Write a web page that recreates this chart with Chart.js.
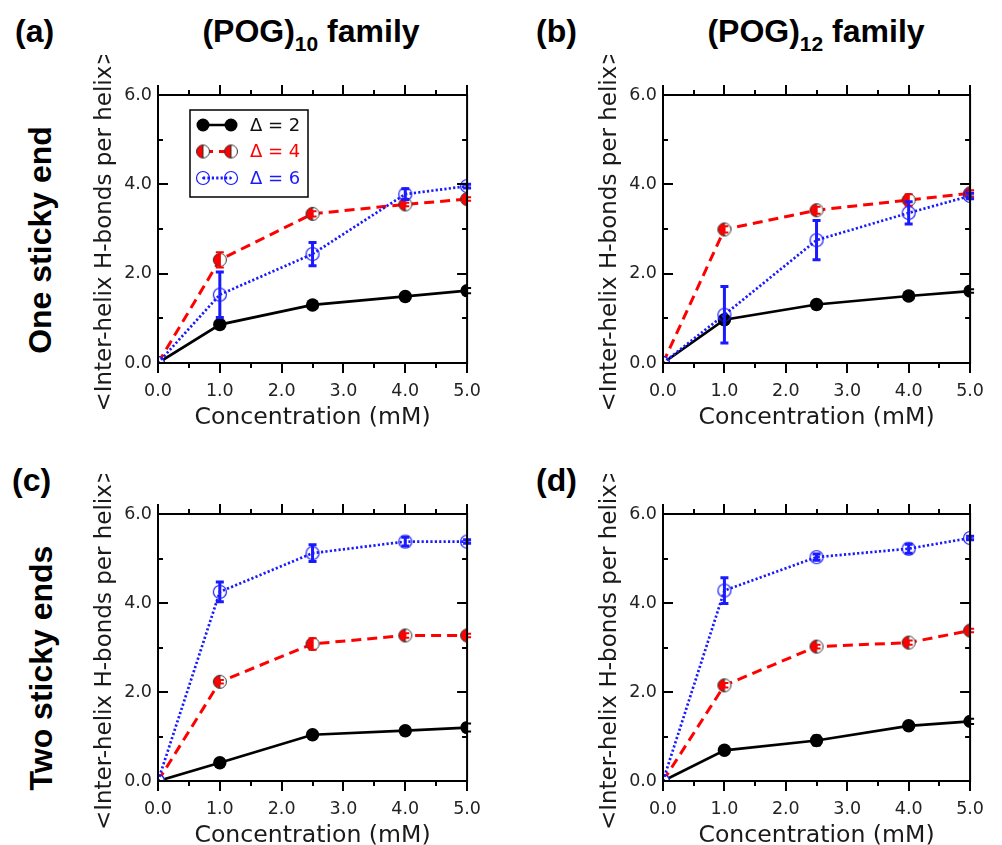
<!DOCTYPE html>
<html>
<head>
<meta charset="utf-8">
<script src="https://cdn.jsdelivr.net/npm/chart.js@4.4.0/dist/chart.umd.min.js"></script>
<style>
  body { margin: 0; background: #fff; width: 1002px; height: 845px; overflow: hidden; position: relative;
         font-family: "Liberation Sans", Arial, sans-serif; }
  canvas.panel { position: absolute; }
  .lbl { position: absolute; font-weight: bold; font-size: 32px; line-height: 32px; white-space: nowrap; color: #000; }
  .head { transform: translateX(-50%); }
  .side { transform: translate(-50%, -50%) rotate(-90deg); }
  .sub { font-size: 21px; position: relative; top: 9px; }
</style>
</head>
<body>
<div class="lbl" style="left:15px; top:15px;">(a)</div>
<div class="lbl" style="left:536px; top:15px;">(b)</div>
<div class="lbl" style="left:12px; top:464px;">(c)</div>
<div class="lbl" style="left:536px; top:464px;">(d)</div>
<div class="lbl head" style="left:311px; top:15px;">(POG)<span class="sub">10</span> family</div>
<div class="lbl head" style="left:816px; top:15px;">(POG)<span class="sub">12</span> family</div>
<div class="lbl side" style="left:40px; top:240px;">One sticky end</div>
<div class="lbl side" style="left:41px; top:668px;">Two sticky ends</div>

<canvas id="pa" class="panel"></canvas>
<canvas id="pb" class="panel"></canvas>
<canvas id="pc" class="panel"></canvas>
<canvas id="pd" class="panel"></canvas>

<script>
// concentration points (mM)
const conc = [0, 1.0, 2.5, 4.0, 5.0];
const seriesNames = ['\u0394 = 2', '\u0394 = 4', '\u0394 = 6'];

// (a) (POG)10, one sticky end
const a_d2 = [0, 0.86, 1.30, 1.49, 1.62];
const a_d2_err = [0, 0.04, 0.04, 0.04, 0.06];
const a_d4 = [0, 2.31, 3.34, 3.55, 3.67];
const a_d4_err = [0, 0.17, 0.06, 0.04, 0.04];
const a_d6 = [0, 1.53, 2.44, 3.78, 3.96];
const a_d6_err = [0, 0.51, 0.26, 0.12, 0.04];

// (b) (POG)12, one sticky end
const b_d2 = [0, 0.97, 1.31, 1.50, 1.61];
const b_d2_err = [0, 0.06, 0.04, 0.04, 0.04];
const b_d4 = [0, 2.99, 3.42, 3.65, 3.80];
const b_d4_err = [0, 0.07, 0.08, 0.13, 0.07];
const b_d6 = [0, 1.08, 2.75, 3.36, 3.74];
const b_d6_err = [0, 0.63, 0.44, 0.25, 0.06];

// (c) (POG)10, two sticky ends
const c_d2 = [0, 0.41, 1.04, 1.13, 1.20];
const c_d2_err = [0, 0.04, 0.05, 0.05, 0.09];
const c_d4 = [0, 2.23, 3.08, 3.27, 3.27];
const c_d4_err = [0, 0.04, 0.13, 0.05, 0.04];
const c_d6 = [0, 4.25, 5.12, 5.38, 5.38];
const c_d6_err = [0, 0.22, 0.19, 0.10, 0.04];

// (d) (POG)12, two sticky ends
const d_d2 = [0, 0.69, 0.91, 1.24, 1.34];
const d_d2_err = [0, 0.05, 0.11, 0.05, 0.06];
const d_d4 = [0, 2.15, 3.02, 3.11, 3.38];
const d_d4_err = [0, 0.05, 0.04, 0.05, 0.04];
const d_d6 = [0, 4.28, 5.03, 5.22, 5.46];
const d_d6_err = [0, 0.29, 0.07, 0.10, 0.04];

const RED = '#ff0000', BLUE = '#1a1aff';

// half red / half white circle
function halfMarker() {
  const c = document.createElement('canvas');
  c.width = c.height = 16;
  const g = c.getContext('2d'), m = 8, r = 6.5;
  g.fillStyle = '#fff';
  g.beginPath(); g.arc(m, m, r, 0, Math.PI * 2); g.fill();
  g.fillStyle = RED;
  g.beginPath(); g.arc(m, m, r, Math.PI / 2, Math.PI * 1.5); g.closePath(); g.fill();
  g.strokeStyle = '#333'; g.lineWidth = 1;
  g.beginPath(); g.arc(m, m, r, 0, Math.PI * 2); g.stroke();
  g.beginPath(); g.moveTo(m, m - r); g.lineTo(m, m + r); g.stroke();
  return c;
}
// open blue ring with a dot
function dotMarker() {
  const c = document.createElement('canvas');
  c.width = c.height = 16;
  const g = c.getContext('2d'), m = 8, r = 6.5;
  g.strokeStyle = BLUE; g.lineWidth = 1.2;
  g.beginPath(); g.arc(m, m, r, 0, Math.PI * 2); g.stroke();
  g.fillStyle = BLUE;
  g.beginPath(); g.arc(m, m, 1, 0, Math.PI * 2); g.fill();
  return c;
}
const redMark = halfMarker();
const blueMark = dotMarker();

const errorBars = {
  id: 'errorBars',
  afterDatasetDraw(chart, args) {
    const ds = chart.data.datasets[args.index];
    if (!ds.errors) return;
    const ctx = chart.ctx, ys = chart.scales.y;
    ctx.save();
    ctx.strokeStyle = ds.errColor;
    ctx.lineWidth = ds.errWidth;
    args.meta.data.forEach((pt, i) => {
      const e = ds.errors[i];
      if (!e) return;
      const v = ds.data[i].y;
      const y0 = ys.getPixelForValue(v - e), y1 = ys.getPixelForValue(v + e);
      ctx.beginPath();
      ctx.moveTo(pt.x, y0); ctx.lineTo(pt.x, y1);
      ctx.moveTo(pt.x - 4, y0); ctx.lineTo(pt.x + 4, y0);
      ctx.moveTo(pt.x - 4, y1); ctx.lineTo(pt.x + 4, y1);
      ctx.stroke();
    });
    ctx.restore();
  }
};

// box round the plot with major/minor ticks on all sides
const frame = {
  id: 'frame',
  afterDatasetsDraw(chart) {
    const { ctx, chartArea: a, scales: { x, y } } = chart;
    ctx.save();
    ctx.strokeStyle = '#000';
    ctx.lineWidth = 2;
    ctx.strokeRect(a.left, a.top, a.right - a.left, a.bottom - a.top);
    ctx.beginPath();
    for (let v = x.min; v <= x.max + 1e-6; v += 0.5) {
      const px = Math.round(x.getPixelForValue(v));
      const len = Math.abs(v % 1) < 1e-6 ? 10 : 5;
      ctx.moveTo(px, a.bottom); ctx.lineTo(px, a.bottom + len);
      ctx.moveTo(px, a.top); ctx.lineTo(px, a.top - len);
    }
    for (let v = y.min; v <= y.max + 1e-6; v += 1) {
      const py = Math.round(y.getPixelForValue(v));
      const len = v % 2 === 0 ? 10 : 5;
      ctx.moveTo(a.left, py); ctx.lineTo(a.left + len, py);
      ctx.moveTo(a.right, py); ctx.lineTo(a.right - len, py);
    }
    ctx.stroke();
    ctx.restore();
  }
};

const legendBox = {
  id: 'legendBox',
  afterDraw(chart) {
    if (!chart.options.plugins.legendBox.show) return;
    const { ctx, chartArea: a } = chart;
    const L = a.left, T = a.top;
    ctx.save();
    ctx.fillStyle = '#fff';
    ctx.fillRect(L + 32, T + 15, 118, 87);
    ctx.strokeStyle = '#000'; ctx.lineWidth = 1.5;
    ctx.strokeRect(L + 32, T + 15, 118, 87);
    const rows = [T + 30, T + 56.5, T + 83];
    const cols = ['#000', RED, BLUE];
    const dashes = [[], [10, 6], [2.2, 2.2]];
    const x1 = L + 45, x2 = L + 73;
    rows.forEach((ry, i) => {
      ctx.strokeStyle = cols[i];
      ctx.lineWidth = i === 0 ? 2.5 : 3;
      ctx.setLineDash(dashes[i]);
      ctx.beginPath(); ctx.moveTo(x1, ry); ctx.lineTo(x2, ry); ctx.stroke();
      ctx.setLineDash([]);
      [x1, x2].forEach(mx => {
        if (i === 0) {
          ctx.fillStyle = '#000';
          ctx.beginPath(); ctx.arc(mx, ry, 6.5, 0, Math.PI * 2); ctx.fill();
        } else {
          const img = i === 1 ? redMark : blueMark;
          ctx.drawImage(img, mx - img.width / 2, ry - img.height / 2);
        }
      });
      ctx.fillStyle = i === 0 ? '#111' : cols[i];
      ctx.font = '18px "DejaVu Sans"';
      ctx.textBaseline = 'middle';
      ctx.fillText(seriesNames[i], L + 92, ry + 1);
    });
    ctx.restore();
  }
};

function pts(vals) { return conc.map((c, i) => ({ x: c, y: vals[i] })); }

function makePanel(id, L, T, R, B, d2, e2, d4, e4, d6, e6, withLegend) {
  const cv = document.getElementById(id);
  const padL = 100, padT = 40, padR = 17, padB = 90;
  cv.width = (R - L) + padL + padR;
  cv.height = (B - T) + padT + padB;
  cv.style.left = (L - padL) + 'px';
  cv.style.top = (T - padT) + 'px';
  new Chart(cv.getContext('2d'), {
    type: 'line',
    data: {
      datasets: [
        { label: seriesNames[0], data: pts(d2), errors: e2, errColor: '#000', errWidth: 2,
          borderColor: '#000', borderWidth: 2.7, pointStyle: 'circle', pointRadius: 6.7,
          pointBackgroundColor: '#000', pointBorderWidth: 0, order: 3, clip: 1 },
        { label: seriesNames[1], data: pts(d4), errors: e4, errColor: RED, errWidth: 2,
          borderColor: RED, borderWidth: 3, borderDash: [10, 6], pointStyle: redMark,
          order: 2, clip: 1 },
        { label: seriesNames[2], data: pts(d6), errors: e6, errColor: BLUE, errWidth: 3,
          borderColor: BLUE, borderWidth: 2.7, borderDash: [2.2, 2.2], pointStyle: blueMark,
          order: 1, clip: 1 }
      ]
    },
    options: {
      responsive: false,
      animation: false,
      events: [],
      layout: { padding: { left: 0, top: padT, right: padR, bottom: 0 } },
      plugins: { legend: { display: false }, tooltip: { enabled: false }, legendBox: { show: withLegend } },
      scales: {
        x: {
          type: 'linear', min: 0, max: 5,
          grid: { display: false, drawTicks: false },
          border: { display: false },
          afterFit: s => { s.height = padB; },
          ticks: { stepSize: 1, padding: 18, color: '#222', font: { family: 'DejaVu Sans', size: 17.5 },
                   callback: v => v.toFixed(1), maxRotation: 0 },
          title: { display: true, text: 'Concentration (mM)', color: '#1a1a1a',
                   font: { family: 'DejaVu Sans', size: 23.6 }, padding: { top: 0, bottom: 21 } }
        },
        y: {
          min: 0, max: 6,
          grid: { display: false, drawTicks: false },
          border: { display: false },
          afterFit: s => { s.width = padL; },
          ticks: { stepSize: 2, padding: 6, color: '#222', font: { family: 'DejaVu Sans', size: 17.5 },
                   callback: v => v.toFixed(1) },
          title: { display: true, text: '<Inter-helix H-bonds per helix>', color: '#1a1a1a',
                   font: { family: 'DejaVu Sans', size: 23 }, padding: { top: 33, bottom: 0 } }
        }
      }
    },
    plugins: [errorBars, frame, legendBox]
  });
}

makePanel('pa', 158, 95, 482, 363, a_d2, a_d2_err, a_d4, a_d4_err, a_d6, a_d6_err, true);
makePanel('pb', 663, 95, 985, 363, b_d2, b_d2_err, b_d4, b_d4_err, b_d6, b_d6_err, false);
makePanel('pc', 158, 514, 482, 781, c_d2, c_d2_err, c_d4, c_d4_err, c_d6, c_d6_err, false);
makePanel('pd', 663, 514, 985, 781, d_d2, d_d2_err, d_d4, d_d4_err, d_d6, d_d6_err, false);
</script>
</body>
</html>
